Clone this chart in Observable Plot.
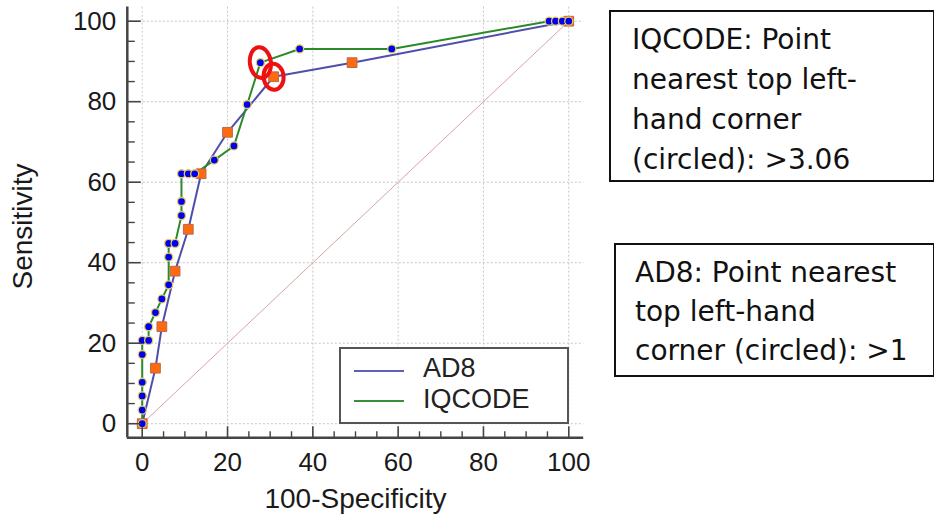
<!DOCTYPE html>
<html>
<head>
<meta charset="utf-8">
<script src="https://cdn.jsdelivr.net/npm/d3@7"></script>
<script src="https://cdn.jsdelivr.net/npm/@observablehq/plot@0.6"></script>
<style>
  html, body { margin: 0; padding: 0; background: #fff; }
  #wrap { position: relative; width: 934px; height: 517px; overflow: hidden; }
  #wrap svg { position: absolute; left: 0; top: 0; }
  .legend { position: absolute; left: 339px; top: 347px; width: 226px; height: 73px;
            border: 2px solid #555; background: #fff; font-family: "Liberation Sans", Arial, sans-serif;
            font-size: 27px; color: #222; }
  .legend .sw { position: absolute; left: 13px; width: 50px; height: 0; border-top: 2px solid; }
  .legend .lb { position: absolute; left: 82px; line-height: 28px; }
  .note { position: absolute; border: 2px solid #111; background: #fff;
          font-family: "DejaVu Sans", Verdana, sans-serif; font-size: 28px; color: #111; }
  .note .t { position: absolute; white-space: nowrap; }
</style>
</head>
<body>
<div id="wrap"></div>
<script>
// ---- data ----
const seriesNames = ["AD8", "IQCODE"];
const ad8X = [0, 3.1, 4.6, 7.7, 10.8, 13.8, 20.0, 30.8, 49.2, 100];
const ad8Y = [0, 13.8, 24.1, 37.9, 48.3, 62.1, 72.4, 86.2, 89.7, 100];
const iqcodeX = [0, 0, 0, 0, 0, 0, 1.5, 1.5, 3.1, 4.6, 6.2, 6.2, 6.2, 7.7, 9.2, 9.2, 9.2, 10.8, 12.3, 16.9, 21.5, 24.6, 27.7, 36.9, 58.5, 95.4, 96.9, 98.5, 100];
const iqcodeY = [0, 3.4, 6.9, 10.3, 17.2, 20.7, 20.7, 24.1, 27.6, 31.0, 34.5, 41.4, 44.8, 44.8, 51.7, 55.2, 62.1, 62.1, 62.1, 65.5, 69.0, 79.3, 89.7, 93.1, 93.1, 100, 100, 100, 100];
const diagX = [0, 100];
const diagY = [0, 100];
const ad8CircledIndex = 7;      // criterion >1
const iqcodeCircledIndex = 22;  // criterion >3.06
const xTicks = [0, 20, 40, 60, 80, 100];
const yTicks = [0, 20, 40, 60, 80, 100];
const xMinorTicks = [5, 10, 15, 25, 30, 35, 45, 50, 55, 65, 70, 75, 85, 90, 95];
const yMinorTicks = [5, 10, 15, 25, 30, 35, 45, 50, 55, 65, 70, 75, 85, 90, 95];
const xDomain = [-3.5, 103.5];
const yDomain = [-3.5, 103.5];
const xTitle = "100-Specificity";
const yTitle = "Sensitivity";
const noteIQ = ["IQCODE: Point", "nearest top left-", "hand corner", "(circled): >3.06"];
const noteAD8 = ["AD8: Point nearest", "top left-hand", "corner (circled): >1"];

// ---- tables ----
const ad8 = ad8X.map((x, i) => ({x, y: ad8Y[i]}));
const iq = iqcodeX.map((x, i) => ({x, y: iqcodeY[i]}));
const diag = diagX.map((x, i) => ({x, y: diagY[i]}));

const W = 934, H = 517;
const mL = 126.8, mR = 350.8, mT = 6.6, mB = 79.7;
const frameW = W - mL - mR, frameH = H - mT - mB;

function ellipseSymbol(rx, ry) {
  const k = 0.5522847;
  return {
    draw(ctx) {
      ctx.moveTo(rx, 0);
      ctx.bezierCurveTo(rx, k * ry, k * rx, ry, 0, ry);
      ctx.bezierCurveTo(-k * rx, ry, -rx, k * ry, -rx, 0);
      ctx.bezierCurveTo(-rx, -k * ry, -k * rx, -ry, 0, -ry);
      ctx.bezierCurveTo(k * rx, -ry, rx, -k * ry, rx, 0);
      ctx.closePath();
    }
  };
}

const axisColor = "#444";
const chart = Plot.plot({
  width: W, height: H,
  marginLeft: mL, marginRight: mR, marginTop: mT, marginBottom: mB,
  x: {domain: xDomain},
  y: {domain: yDomain},
  style: {fontFamily: "'Liberation Sans', Arial, sans-serif", background: "transparent", color: "#1a1a1a"},
  marks: [
    // grid
    Plot.ruleX(xTicks, {x: d => d, stroke: "#c6c6c6", strokeDasharray: "2,2", strokeWidth: 1}),
    Plot.ruleY(yTicks, {y: d => d, stroke: "#c6c6c6", strokeDasharray: "2,2", strokeWidth: 1}),
    // chance diagonal
    Plot.line(diag, {x: "x", y: "y", stroke: "#d6a4a4", strokeWidth: 1}),
    // series lines
    Plot.line(ad8, {x: "x", y: "y", stroke: "#4f4fab", strokeWidth: 2}),
    Plot.line(iq, {x: "x", y: "y", stroke: "#2a8a2a", strokeWidth: 2}),
    // markers
    Plot.dot(ad8, {x: "x", y: "y", symbol: "square", r: 5.5, fill: "#ff6a10", stroke: "#b86a48", strokeWidth: 1}),
    Plot.dot(iq, {x: "x", y: "y", r: 4, fill: "#0000ee", stroke: "#e6cc5c", strokeWidth: 1.3}),
    // circled optimal points
    Plot.dot([iq[iqcodeCircledIndex]], {x: "x", y: "y", symbol: ellipseSymbol(10.5, 15.5), r: 5, fill: "none", stroke: "#ee1111", strokeWidth: 4, rotate: -8}),
    Plot.dot([ad8[ad8CircledIndex]], {x: "x", y: "y", symbol: ellipseSymbol(10, 13), r: 5, fill: "none", stroke: "#ee1111", strokeWidth: 4, rotate: -6}),
    // axis lines
    Plot.ruleX([xDomain[0]], {x: d => d, stroke: axisColor, strokeWidth: 2.5}),
    Plot.ruleY([yDomain[0]], {y: d => d, stroke: axisColor, strokeWidth: 2.5}),
    // inward ticks
    Plot.ruleX(xTicks, {x: d => d, stroke: axisColor, strokeWidth: 1.6, insetTop: frameH - 11}),
    Plot.ruleX(xMinorTicks, {x: d => d, stroke: axisColor, strokeWidth: 1.4, insetTop: frameH - 6}),
    Plot.ruleY(yTicks, {y: d => d, stroke: axisColor, strokeWidth: 1.6, insetRight: frameW - 14}),
    Plot.ruleY(yMinorTicks, {y: d => d, stroke: axisColor, strokeWidth: 1.4, insetRight: frameW - 8}),
    // tick labels
    Plot.axisX({ticks: xTicks, tickSize: 0, tickPadding: 15, fontSize: 26, label: null}),
    Plot.axisY({ticks: yTicks, tickSize: 0, tickPadding: 11, fontSize: 26, label: null}),
    // axis titles
    Plot.text([xTitle], {text: d => d, frameAnchor: "bottom", lineAnchor: "middle", textAnchor: "middle", dy: 61, fontSize: 28}),
    Plot.text([yTitle], {text: d => d, frameAnchor: "left", lineAnchor: "middle", textAnchor: "middle", rotate: -90, dx: -104, dy: 4, fontSize: 28})
  ]
});

const wrap = document.getElementById("wrap");
wrap.appendChild(chart);

// legend
const legend = document.createElement("div");
legend.className = "legend";
const legendColors = ["#6060bb", "#3a8f3a"];
seriesNames.forEach((name, i) => {
  const sw = document.createElement("div");
  sw.className = "sw";
  sw.style.top = (21 + i * 30) + "px";
  sw.style.borderTopColor = legendColors[i];
  legend.appendChild(sw);
  const lb = document.createElement("div");
  lb.className = "lb";
  lb.style.top = (5 + i * 31) + "px";
  lb.textContent = name;
  legend.appendChild(lb);
});
wrap.appendChild(legend);

// annotation boxes
function note(lines, box, textLeft, textTop, lineH) {
  const d = document.createElement("div");
  d.className = "note";
  d.style.left = box[0] + "px"; d.style.top = box[1] + "px";
  d.style.width = box[2] + "px"; d.style.height = box[3] + "px";
  lines.forEach((s, i) => {
    const t = document.createElement("div");
    t.className = "t";
    t.style.left = textLeft + "px";
    t.style.top = (textTop + i * lineH) + "px";
    t.style.lineHeight = lineH + "px";
    t.textContent = s;
    d.appendChild(t);
  });
  wrap.appendChild(d);
}
note(noteIQ, [609, 10, 322, 168], 21, 8, 40);
note(noteAD8, [614, 243, 317, 130], 19, 8, 39);
</script>
</body>
</html>
